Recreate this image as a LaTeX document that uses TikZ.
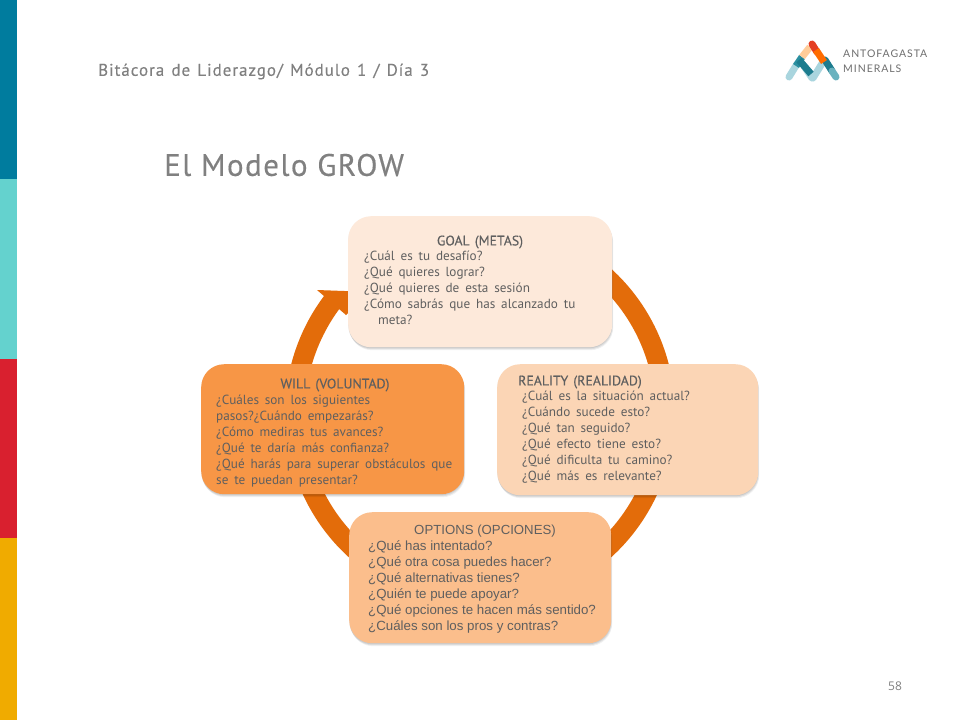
\documentclass[tikz,border=0pt]{standalone}
\usepackage{fontspec}
\usetikzlibrary{shadows}
\setmainfont{Open Sans}
\newfontfamily\bodyf[WordSpace=1.65]{PT Sans}
\newfontfamily\bodyhf[WordSpace=1.4,FakeBold=0.2]{PT Sans}
\newfontfamily\argf{Liberation Sans}
\newfontfamily\headf[LetterSpace=5.7,WordSpace=1.3,FakeBold=0.2]{PT Sans}
\newfontfamily\titlef[LetterSpace=4.7,FakeBold=0.4]{PT Sans}
\newfontfamily\logof[LetterSpace=9]{Lato}
\definecolor{txt}{HTML}{5F5F5F}
\definecolor{hdrc}{HTML}{808080}
\definecolor{ringc}{HTML}{E36C0A}
\definecolor{bandA}{HTML}{007C9E}
\definecolor{bandB}{HTML}{64D2CE}
\definecolor{bandC}{HTML}{D9202F}
\definecolor{bandD}{HTML}{F0AB00}
\definecolor{goalc}{HTML}{FDE9DA}
\definecolor{realc}{HTML}{FBD5B5}
\definecolor{optc}{HTML}{FBBE8C}
\definecolor{willc}{HTML}{F79646}
\definecolor{logolight}{HTML}{A9D5DE}
\definecolor{logodark}{HTML}{1C7C8E}
\definecolor{logomid}{HTML}{2A8FA0}
\tikzset{
  softbox/.style={rounded corners=23pt,inner sep=0pt,anchor=north west,
    drop shadow={shadow xshift=1pt,shadow yshift=-3pt,opacity=.06,fill=black},
    drop shadow={shadow xshift=0.5pt,shadow yshift=-2pt,opacity=.08,fill=black},
    drop shadow={shadow xshift=0pt,shadow yshift=-1pt,opacity=.08,fill=black}},
  bodytxt/.style={anchor=north west,inner sep=0pt,align=left,text=txt,font=\bodyf\fontsize{13.2}{16}\selectfont},
  argtxt/.style={anchor=north west,inner sep=0pt,align=left,text=txt,font=\argf\fontsize{13.3}{16}\selectfont},
  headtxt/.style={inner sep=0pt,text=txt,font=\bodyhf\fontsize{13.8}{16}\selectfont},
  logoline/.style={line width=7pt,line cap=round},
  logobutt/.style={line width=7pt,line cap=butt},
  band/.style={inner sep=0pt,minimum width=17pt,anchor=north west}
}
\begin{document}
\begin{tikzpicture}[x=1pt,y=-1pt]
\useasboundingbox (0,0) rectangle (960,720);
\fill[white] (0,0) rectangle (960,720);
% side bands
\node[band,fill=bandA,minimum height=179pt] (b1) at (0,0) {};
\node[band,fill=bandB,minimum height=180pt] (b2) at (0,179) {};
\node[band,fill=bandC,minimum height=179pt] (b3) at (0,359) {};
\node[band,fill=bandD,minimum height=182pt] (b4) at (0,538) {};
% header
\node[anchor=west,inner sep=0pt,text=hdrc,font=\headf\fontsize{17}{18}\selectfont] (hdr) at (98,71.5) {Bitácora de Liderazgo/ Módulo 1 / Día 3};
\node[anchor=west,inner sep=0pt,text=hdrc,font=\titlef\fontsize{31}{32}\selectfont] (ttl) at (164,165) {El Modelo GROW};
\node[inner sep=0pt,text=gray,font=\fontsize{12}{14}\selectfont] (pg) at (895,686) {58};
% logo
\draw[logoline,color=logolight] (797,64) -- (789,77);
\draw[logobutt,color=logomid] (802,57) -- (796,66);
\draw[logoline,color=logolight] (804,66) -- (812,78);
\draw[logoline,color=logolight] (823,62) -- (813,78);
\draw[logobutt,color=logodark] (799,60) -- (811,74);
\draw[logoline,color=logodark] (825,60) -- (832,71);
\draw[logoline,color=logomid!50!logolight] (832,71) -- (836,77);
\draw[logobutt,color=orange!40!white] (810,47) -- (802,57);
\draw[logoline,color=bandC!70!orange] (812,44) -- (817,52);
\draw[logobutt,color=orange!85!red] (816,50) -- (824,62);
\node[anchor=west,inner sep=0pt,text=txt!90,font=\logof\fontsize{10.5}{12}\selectfont] (lg1) at (843,54) {ANTOFAGASTA};
\node[anchor=west,inner sep=0pt,text=txt!90,font=\logof\fontsize{10.5}{12}\selectfont] (lg2) at (843,69) {MINERALS};
% ring
\coordinate (ringcentre) at (480,413);
\draw[ringc,line width=20pt] plot[domain=143:420,samples=120,smooth] ({480+185*cos(\x)},{413-185*sin(\x)});
\fill[ringc] (317,290) -- (346,315) -- (372,292) -- cycle;
% boxes
\node[softbox,fill=goalc,minimum width=264pt,minimum height=131pt] (goal) at (348,216) {};
\node[softbox,fill=realc,minimum width=261pt,minimum height=131pt] (real) at (497,364) {};
\node[softbox,fill=optc,minimum width=262pt,minimum height=131pt] (opt) at (349,512) {};
\node[softbox,fill=willc,minimum width=263pt,minimum height=130pt] (will) at (201,364) {};
% text
\node[headtxt] (goalh) at (480,242) {GOAL (METAS)};
\node[bodytxt] (goalt) at (364,249) {\strut¿Cuál es tu desafío?\\¿Qué quieres lograr?\\¿Qué quieres de esta sesión\\¿Cómo sabrás que has alcanzado tu\\\hspace*{14pt}meta?};
\node[headtxt,anchor=west] (realh) at (518,382) {REALITY (REALIDAD)};
\node[bodytxt] (realt) at (522,389) {\strut¿Cuál es la situación actual?\\¿Cuándo sucede esto?\\¿Qué tan seguido?\\¿Qué efecto tiene esto?\\¿Qué dificulta tu camino?\\¿Qué más es relevante?};
\node[inner sep=0pt,text=txt,font=\argf\fontsize{13.2}{16}\selectfont] (opth) at (485,531) {OPTIONS (OPCIONES)};
\node[argtxt] (optt) at (368,539) {\strut¿Qué has intentado?\\¿Qué otra cosa puedes hacer?\\¿Qué alternativas tienes?\\¿Quién te puede apoyar?\\¿Qué opciones te hacen más sentido?\\¿Cuáles son los pros y contras?};
\node[headtxt] (willh) at (335,385) {WILL (VOLUNTAD)};
\node[bodytxt] (willt) at (216,393) {\strut¿Cuáles son los siguientes\\pasos?¿Cuándo empezarás?\\¿Cómo mediras tus avances?\\¿Qué te daría más confianza?\\¿Qué harás para superar obstáculos que\\se te puedan presentar?};
\end{tikzpicture}
\end{document}
